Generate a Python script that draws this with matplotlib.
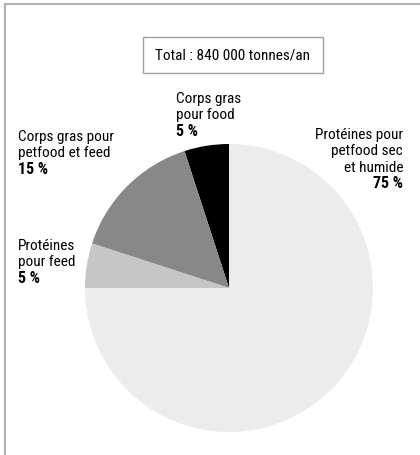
import matplotlib
matplotlib.use("Agg")
import matplotlib.pyplot as plt
from matplotlib.lines import Line2D
from matplotlib.patches import Rectangle

plt.rcParams['font.family'] = ['Roboto Condensed', 'DejaVu Sans']

labels = ["Corps gras\npour food", "Corps gras pour\npetfood et feed",
          "Protéines\npour feed", "Protéines pour\npetfood sec\net humide"]
values = [5, 15, 5, 75]
colors = ["#000000", "#888888", "#c6c6c6", "#ececec"]
total_text = "Total : 840 000 tonnes/an"

W, H = 420, 455
fig = plt.figure(figsize=(W / 100, H / 100), dpi=100)

def fx(x):
    return x / W

def fy(y):
    return 1 - y / H

# frame (left and top)
fig.add_artist(Line2D([fx(5), fx(5)], [fy(4), 0], color="#b0b0b0", lw=1.5))
fig.add_artist(Line2D([fx(5), 1], [fy(4), fy(4)], color="#b0b0b0", lw=1.5))

# pie
cx, cy, r = 229, 288, 144
ax = fig.add_axes([fx(cx - r), fy(cy + r), 2 * r / W, 2 * r / H])
ax.pie(values, colors=colors, startangle=90, counterclock=True, radius=1,
       wedgeprops=dict(linewidth=0))
ax.set_xlim(-1, 1)
ax.set_ylim(-1, 1)
ax.set_aspect("equal")
ax.axis("off")

# total box
fig.add_artist(Rectangle((fx(143), fy(73)), fx(323) - fx(143), fy(37) - fy(73),
                         fill=False, edgecolor="#a0a0a0", lw=1.0))
fig.text(fx(232), fy(56), total_text, ha="center", va="center", fontsize=11)

fs = 11
lh = 16.3

def label(x, y_first, text, pct, ha):
    lines = text.split("\n")
    for i, ln in enumerate(lines):
        fig.text(fx(x), fy(y_first + i * lh), ln, ha=ha, va="center", fontsize=fs)
    fig.text(fx(x), fy(y_first + len(lines) * lh), f"{pct} %", ha=ha, va="center",
             fontsize=fs + 0.5, fontweight="bold")

label(176, 99, labels[0], values[0], "left")
label(18, 137, labels[1], values[1], "left")
label(18, 246, labels[2], values[2], "left")
label(403, 135, labels[3], values[3], "right")

fig.savefig("out.png", dpi=100)
